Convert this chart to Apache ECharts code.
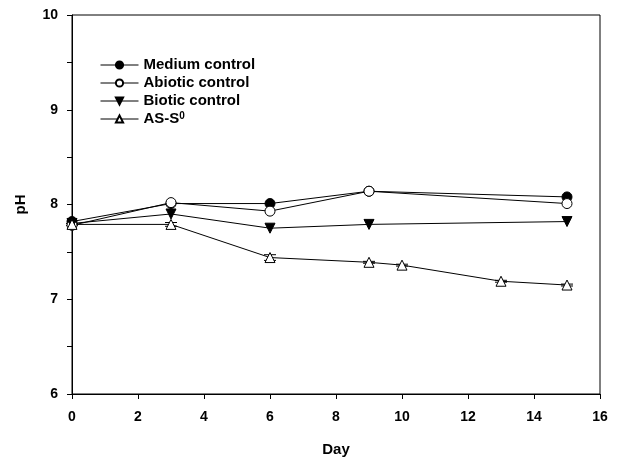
<!DOCTYPE html>
<html>
<head>
<meta charset="utf-8">
<script src="https://cdn.jsdelivr.net/npm/echarts@6/dist/echarts.min.js"></script>
<style>
  html, body { margin: 0; padding: 0; background: #fff; }
  #chart { width: 619px; height: 458px; }
</style>
</head>
<body>
<div id="chart"></div>
<script>
// pH over time for the four treatments
const mediumDays = [0, 3, 6, 9, 15]
const mediumPH = [7.82, 8.01, 8.01, 8.14, 8.08]

const abioticDays = [0, 3, 6, 9, 15]
const abioticPH = [7.78, 8.02, 7.93, 8.14, 8.01]

const bioticDays = [0, 3, 6, 9, 15]
const bioticPH = [7.80, 7.90, 7.75, 7.79, 7.82]

const assDays = [0, 3, 6, 9, 10, 13, 15]
const assPH = [7.79, 7.79, 7.44, 7.39, 7.36, 7.19, 7.15]
const assErr = [0.01, 0.02, 0.03, 0.01, 0.01, 0.01, 0.01]

const xTicks = [0, 2, 4, 6, 8, 10, 12, 14, 16]
const yTicks = [6, 7, 8, 9, 10]

const font = 'Liberation Sans, Arial, sans-serif'

function pairs(xs, ys) {
  return xs.map((x, i) => [x, ys[i]])
}

const chart = echarts.init(document.getElementById('chart'))

const lineBase = {
  type: 'line',
  lineStyle: {color: '#000', width: 1},
  symbolSize: 10,
  z: 3
}

const option = {
  backgroundColor: '#fff',
  animation: false,
  grid: {
    left: 72, right: 19, top: 15, bottom: 64,
    outerBoundsMode: 'none',
    containLabel: false,
    show: true, borderColor: '#000', borderWidth: 1
  },
  legend: {
    orient: 'vertical',
    left: 95,
    top: 52,
    itemWidth: 38,
    itemHeight: 9,
    itemGap: 2,
    lineStyle: {width: 1},
    data: ['Medium control', 'Abiotic control', 'Biotic control', 'AS-S0'],
    formatter: function (name) {
      if (name === 'AS-S0') return 'AS-S{sup|0}'
      return name
    },
    textStyle: {
      fontFamily: font, fontWeight: 'bold', fontSize: 15, color: '#000', lineHeight: 16,
      rich: {
        sup: {fontFamily: font, fontWeight: 'bold', fontSize: 10, lineHeight: 16, verticalAlign: 'top'}
      }
    }
  },
  xAxis: {
    type: 'value',
    min: 0, max: 16, interval: 2,
    name: 'Day',
    nameLocation: 'middle',
    nameGap: 48,
    nameMoveOverlap: false,
    nameTextStyle: {fontFamily: font, fontWeight: 'bold', fontSize: 15, color: '#000'},
    axisLine: {lineStyle: {color: '#000', width: 1}},
    axisTick: {show: true, length: 5, lineStyle: {color: '#000'}},
    axisLabel: {
      fontFamily: font, fontWeight: 'bold', fontSize: 14, color: '#000', margin: 16,
      formatter: v => xTicks.includes(v) ? String(v) : ''
    },
    splitLine: {show: false}
  },
  yAxis: {
    type: 'value',
    min: 6, max: 10, interval: 1,
    name: 'pH',
    nameLocation: 'middle',
    nameGap: 44,
    nameMoveOverlap: false,
    nameTextStyle: {fontFamily: font, fontWeight: 'bold', fontSize: 15, color: '#000'},
    axisLine: {show: true, lineStyle: {color: '#000', width: 1}},
    axisTick: {show: true, length: 5, lineStyle: {color: '#000'}},
    minorTick: {show: true, splitNumber: 2, length: 5, lineStyle: {color: '#000'}},
    axisLabel: {
      fontFamily: font, fontWeight: 'bold', fontSize: 14, color: '#000', margin: 14,
      formatter: v => yTicks.includes(v) ? String(v) : ''
    },
    splitLine: {show: false}
  },
  series: [
    Object.assign({}, lineBase, {
      name: 'Medium control',
      symbol: 'circle',
      itemStyle: {color: '#000', borderColor: '#000', borderWidth: 1},
      data: pairs(mediumDays, mediumPH)
    }),
    Object.assign({}, lineBase, {
      name: 'Abiotic control',
      symbol: 'circle',
      itemStyle: {color: '#fff', borderColor: '#000', borderWidth: 1},
      data: pairs(abioticDays, abioticPH)
    }),
    Object.assign({}, lineBase, {
      name: 'Biotic control',
      symbol: 'triangle',
      symbolRotate: 180,
      itemStyle: {color: '#000', borderColor: '#000', borderWidth: 1},
      data: pairs(bioticDays, bioticPH)
    }),
    Object.assign({}, lineBase, {
      name: 'AS-S0',
      symbol: 'triangle',
      itemStyle: {color: '#fff', borderColor: '#000', borderWidth: 1},
      data: pairs(assDays, assPH)
    }),
    {
      // error bars for AS-S0
      type: 'custom',
      name: 'err',
      z: 2,
      silent: true,
      data: assDays.map((d, i) => [d, assPH[i] - assErr[i], assPH[i] + assErr[i]]),
      renderItem: function (params, api) {
        const lo = api.coord([api.value(0), api.value(1)])
        const hi = api.coord([api.value(0), api.value(2)])
        const w = 6
        const style = {stroke: '#000', lineWidth: 1}
        return {
          type: 'group',
          children: [
            {type: 'line', shape: {x1: lo[0], y1: lo[1], x2: hi[0], y2: hi[1]}, style: style},
            {type: 'line', shape: {x1: lo[0] - w, y1: lo[1], x2: lo[0] + w, y2: lo[1]}, style: style},
            {type: 'line', shape: {x1: hi[0] - w, y1: hi[1], x2: hi[0] + w, y2: hi[1]}, style: style}
          ]
        }
      }
    }
  ]
}

chart.setOption(option)
</script>
</body>
</html>
